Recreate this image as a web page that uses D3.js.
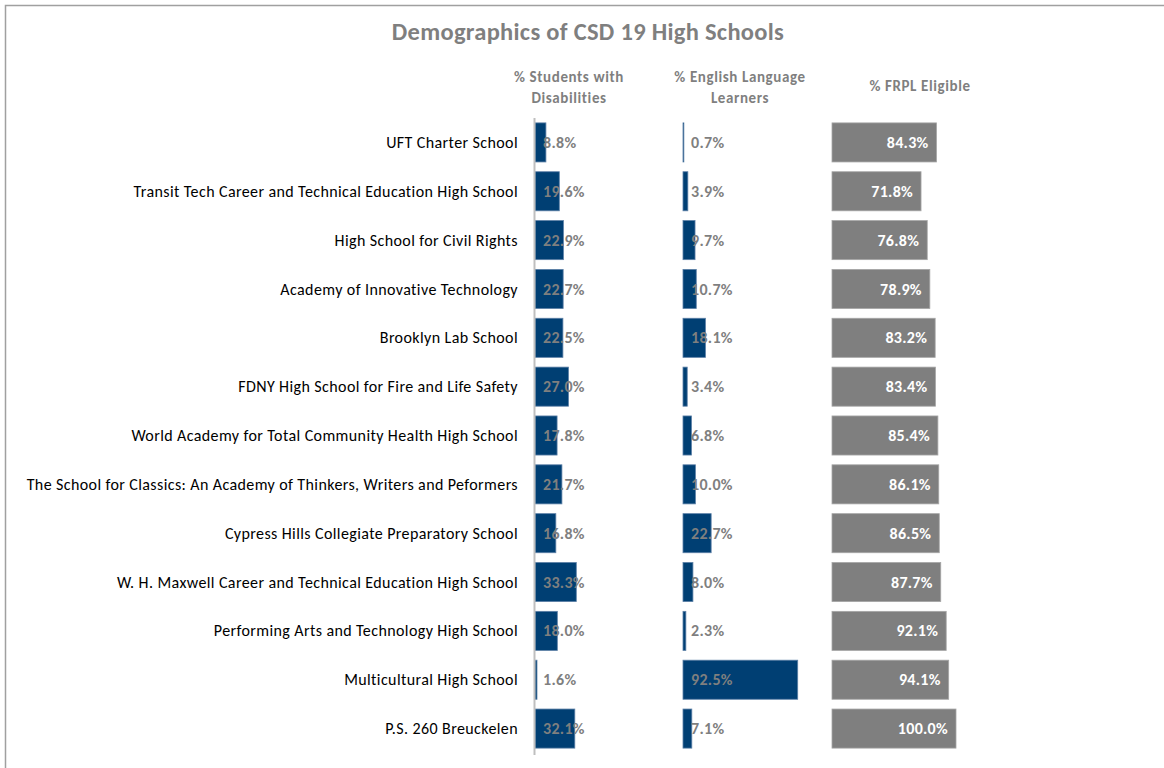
<!DOCTYPE html>
<html>
<head>
<meta charset="utf-8">
<script src="https://cdn.jsdelivr.net/npm/d3@7"></script>
<style>
body { margin: 0; background: #fff; }
text { font-family: Carlito, Lato, "Open Sans", sans-serif; }
</style>
</head>
<body>
<div id="chart"></div>
<script>
const w = 1164;
const h = 768;

const schools = [
	"UFT Charter School",
	"Transit Tech Career and Technical Education High School",
	"High School for Civil Rights",
	"Academy of Innovative Technology",
	"Brooklyn Lab School",
	"FDNY High School for Fire and Life Safety",
	"World Academy for Total Community Health High School",
	"The School for Classics: An Academy of Thinkers, Writers and Peformers",
	"Cypress Hills Collegiate Preparatory School",
	"W. H. Maxwell Career and Technical Education High School",
	"Performing Arts and Technology High School",
	"Multicultural High School",
	"P.S. 260 Breuckelen"
];
const disabilities = [8.8, 19.6, 22.9, 22.7, 22.5, 27.0, 17.8, 21.7, 16.8, 33.3, 18.0, 1.6, 32.1];
const ell = [0.7, 3.9, 9.7, 10.7, 18.1, 3.4, 6.8, 10.0, 22.7, 8.0, 2.3, 92.5, 7.1];
const frpl = [84.3, 71.8, 76.8, 78.9, 83.2, 83.4, 85.4, 86.1, 86.5, 87.7, 92.1, 94.1, 100.0];

const panels = [
	{ head: ["% Students with", "Disabilities"], values: disabilities, x0: 535, cx: 569, fill: "#003f73", stroke: "#5b7fa6", inside: false },
	{ head: ["% English Language", "Learners"], values: ell, x0: 683, cx: 740, fill: "#003f73", stroke: "#5b7fa6", inside: false },
	{ head: ["% FRPL Eligible"], values: frpl, x0: 832, cx: 920, fill: "#7f7f7f", stroke: "#a6a6a6", inside: true }
];

let svg = d3.select('#chart')
	.append('svg')
		.attr('width', w)
		.attr('height', h);

// outer frame (only top/left visible)
svg.append("rect")
	.attr("x", 5.5).attr("y", 5.5)
	.attr("width", w + 10).attr("height", h + 10)
	.attr("fill", "none")
	.attr("stroke", "#a0a0a0")
	.attr("stroke-width", 1.5);

svg.append("text")
	.attr("x", 588).attr("y", 40)
	.attr("text-anchor", "middle")
	.attr("font-size", 24.5).attr("font-weight", "bold")
	.attr("letter-spacing", 0.3)
	.attr("fill", "#7f7f7f")
	.text("Demographics of CSD 19 High Schools");

let yScale = d3.scaleBand()
	.domain(schools)
	.range([118, 753])
	.paddingInner(0.2)
	.paddingOuter(0.1);

let xScale = d3.scaleLinear()
	.domain([0, 100])
	.range([0, 124]);

// category labels
svg.append("g")
	.selectAll("text")
	.data(schools)
	.enter()
	.append("text")
	.attr("x", 518)
	.attr("y", (d) => yScale(d) + yScale.bandwidth() / 2)
	.attr("dy", "0.35em")
	.attr("text-anchor", "end")
	.attr("font-size", 16)
	.attr("letter-spacing", 0.4)
	.attr("fill", "#000")
	.text((d) => d);

panels.forEach((p) => {
	const g = svg.append("g");

	const head = g.append("text")
		.attr("text-anchor", "middle")
		.attr("font-size", 15).attr("font-weight", "bold")
		.attr("letter-spacing", 0.6)
		.attr("fill", "#7f7f7f");
	if (p.head.length === 1) {
		head.append("tspan").attr("x", p.cx).attr("y", 91).text(p.head[0]);
	} else {
		p.head.forEach((t, i) => {
			head.append("tspan").attr("x", p.cx).attr("y", 82 + i * 21).text(t);
		});
	}

	const rows = schools.map((s, i) => ({ school: s, value: p.values[i] }));

	g.selectAll("rect")
		.data(rows)
		.enter()
		.append("rect")
		.attr("x", p.x0)
		.attr("y", (d) => yScale(d.school))
		.attr("width", (d) => xScale(d.value))
		.attr("height", yScale.bandwidth())
		.attr("fill", p.fill)
		.attr("stroke", p.stroke)
		.attr("stroke-width", 0.8);

	g.selectAll("text.val")
		.data(rows)
		.enter()
		.append("text")
		.attr("class", "val")
		.attr("x", (d) => p.inside ? p.x0 + xScale(d.value) - 8 : p.x0 + 8)
		.attr("y", (d) => yScale(d.school) + yScale.bandwidth() / 2)
		.attr("dy", "0.35em")
		.attr("text-anchor", p.inside ? "end" : "start")
		.attr("font-size", 16).attr("font-weight", "bold")
		.attr("letter-spacing", 0.3)
		.attr("fill", p.inside ? "#ffffff" : "#7f7f7f")
		.text((d) => d.value.toFixed(1) + "%");
});

// category axis line
svg.append("line")
	.attr("x1", 534.5).attr("x2", 534.5)
	.attr("y1", 118).attr("y2", 755)
	.attr("stroke", "#bfbfbf")
	.attr("stroke-width", 2);
</script>
</body>
</html>
